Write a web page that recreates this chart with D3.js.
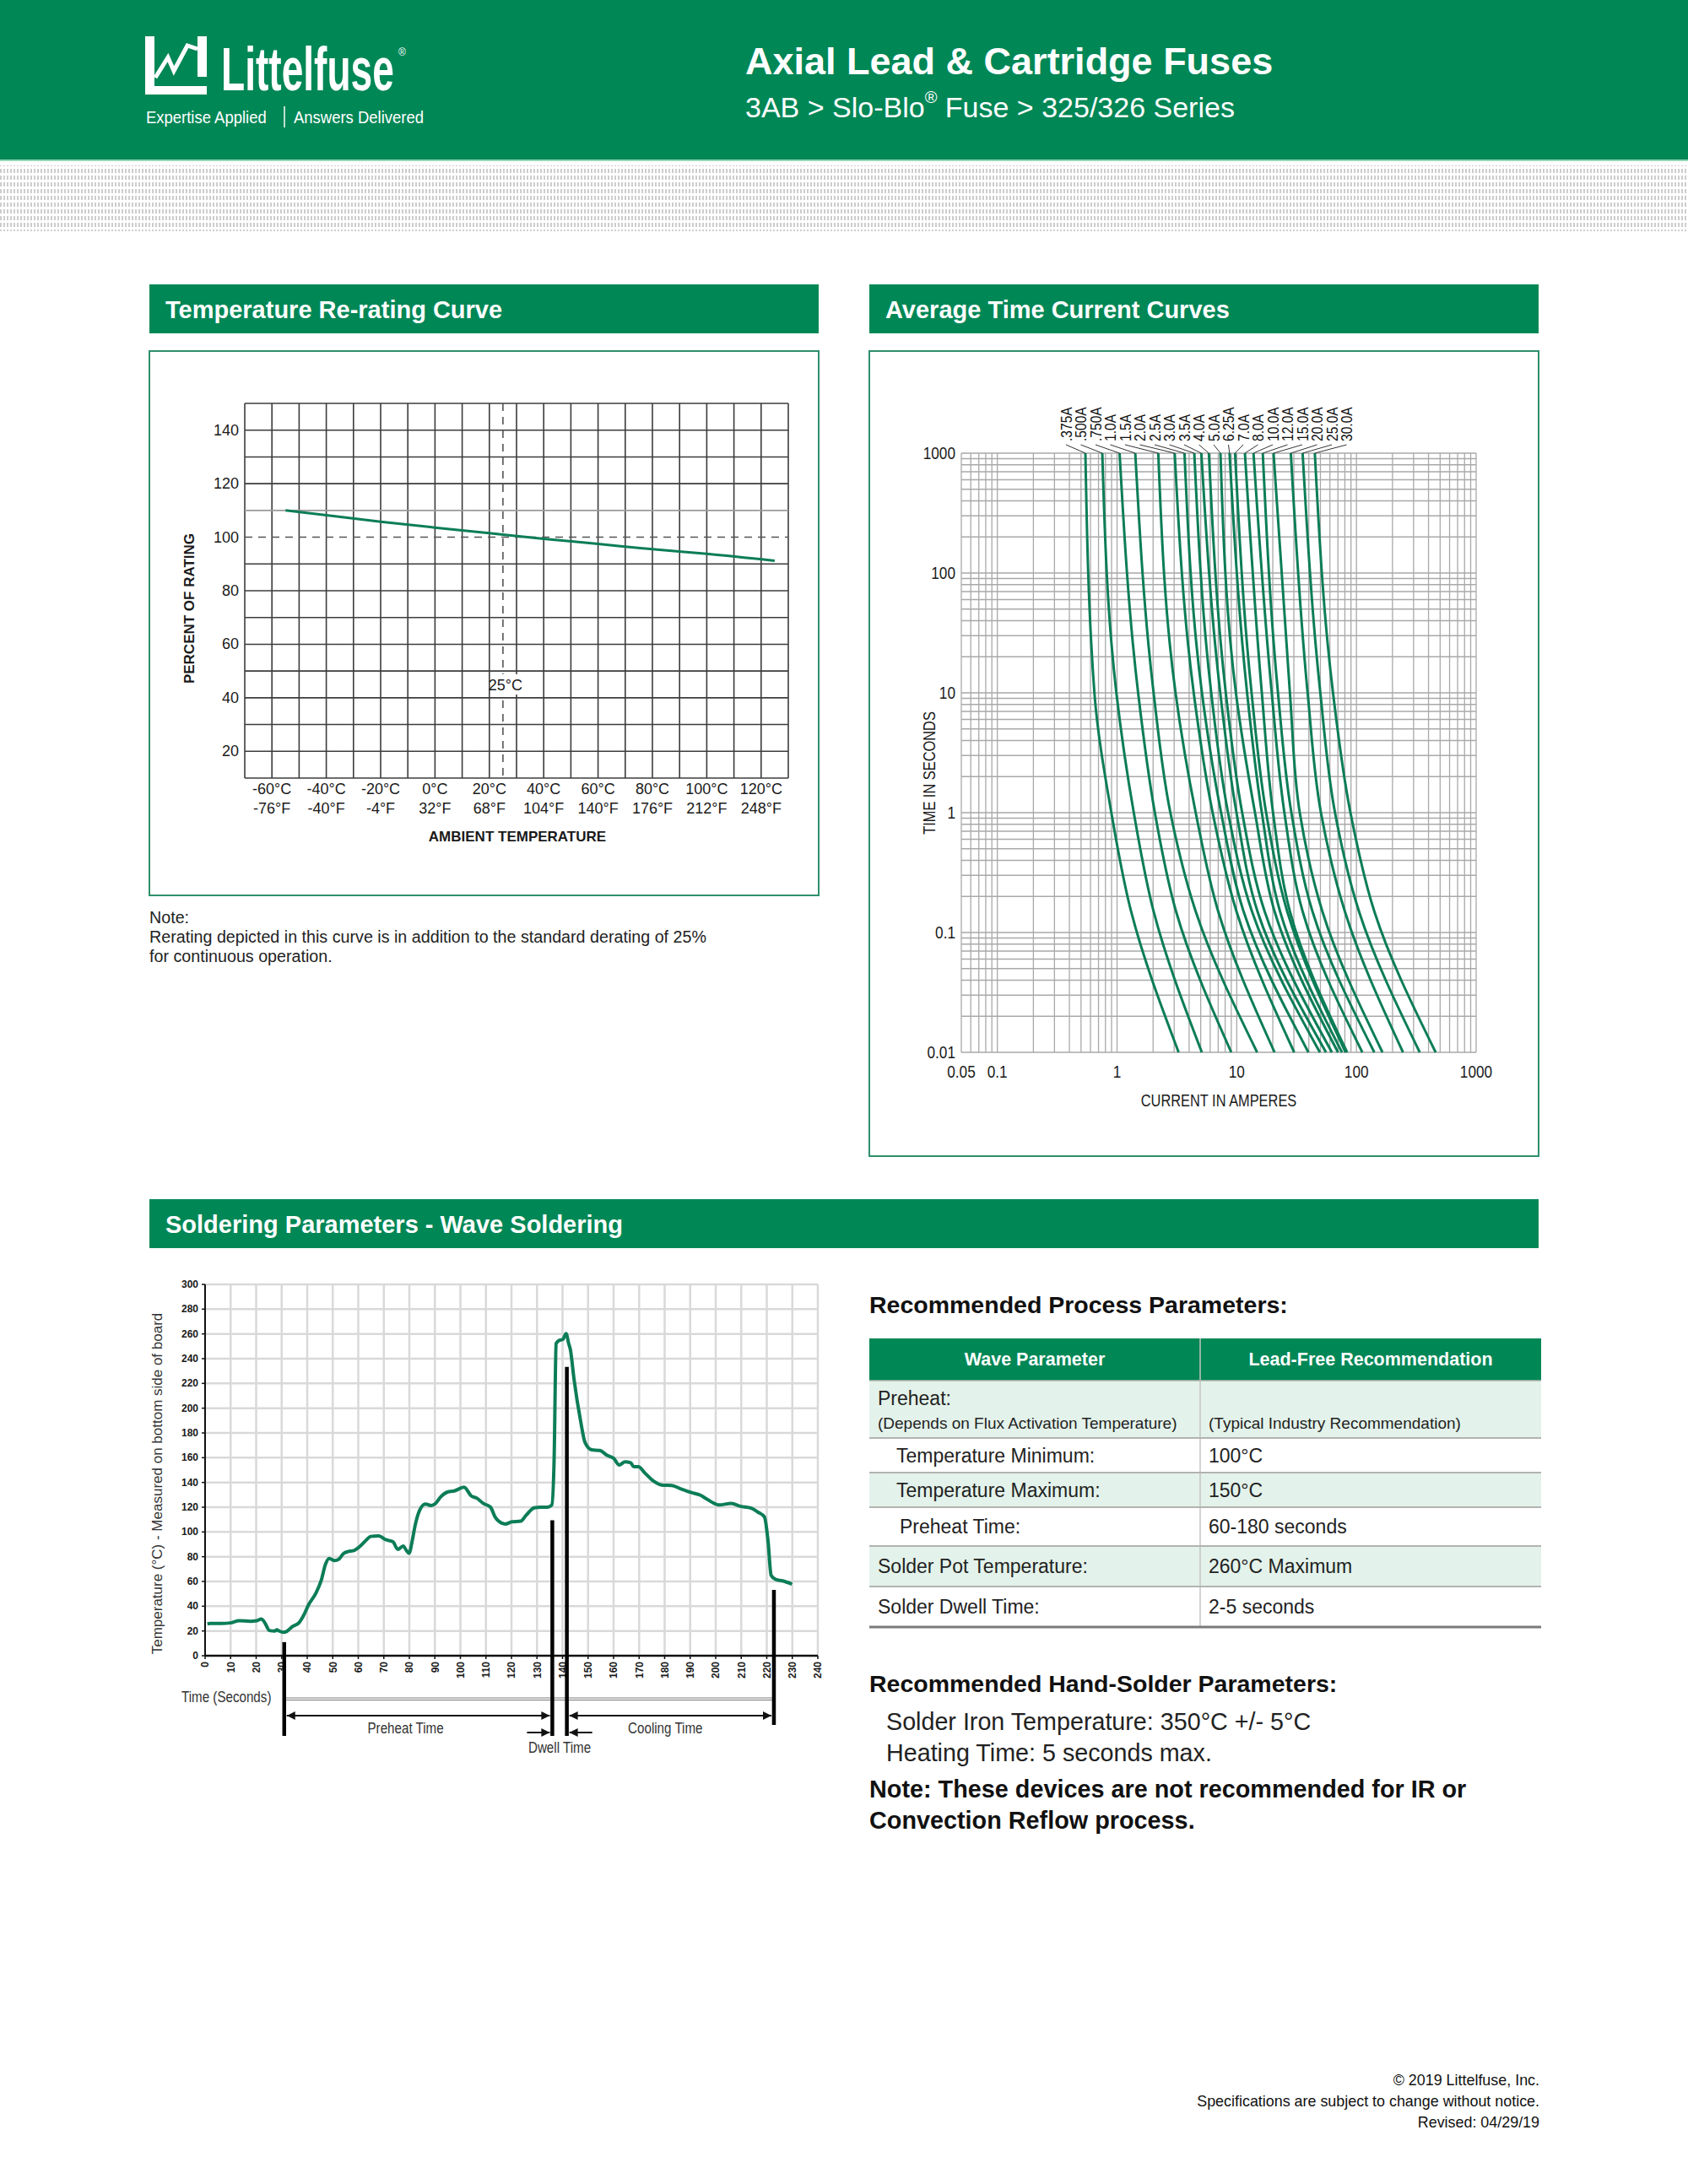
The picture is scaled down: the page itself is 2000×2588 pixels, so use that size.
<!DOCTYPE html>
<html>
<head>
<meta charset="utf-8">
<script src="https://cdnjs.cloudflare.com/ajax/libs/d3/7.8.5/d3.min.js"></script>
<style>
  body { margin: 0; background: #fff; }
  svg { display: block; }
</style>
</head>
<body>
<svg id="page" width="2000" height="2588"></svg>
<script>
// ---- data ----

// temperature re-rating curve
const rerateTempC = [-55, -40, -20, 0, 20, 40, 60, 80, 100, 125];
const reratePct = [110, 108.2, 105.8, 103.6, 101.5, 99.4, 97.5, 95.5, 93.8, 91.2];
const rerateTicksC = [-60, -40, -20, 0, 20, 40, 60, 80, 100, 120];
const rerateTicksF = ['-76°F', '-40°F', '-4°F', '32°F', '68°F', '104°F', '140°F', '176°F', '212°F', '248°F'];
const rerateTicksY = [20, 40, 60, 80, 100, 120, 140];

// average time current curves (amps at a given blow time)
const fuseRatings = ['.375A', '.500A', '.750A', '1.0A', '1.5A', '2.0A', '2.5A', '3.0A', '3.5A', '4.0A',
  '5.0A', '6.25A', '7.0A', '8.0A', '10.0A', '12.0A', '15.0A', '20.0A', '25.0A', '30.0A'];
const curveTimes = [1000, 10, 1, 0.15, 0.01];
const ampsAt1000s = [0.544, 0.753, 1.05, 1.42, 2.21, 3.03, 3.66, 4.42, 5.06, 5.85, 7.31, 8.70, 9.68, 11.7, 13.8, 16.5, 20.3, 28.3, 35.5, 44.9];
const ampsAt10s = [0.647, 0.987, 1.50, 2.02, 3.08, 4.37, 5.12, 6.12, 7.28, 8.10, 9.84, 12.2, 13.3, 16.2, 19.6, 22.1, 27.8, 39.1, 49.9, 63.7];
const ampsAt1s = [0.896, 1.38, 2.07, 2.79, 4.54, 6.29, 7.40, 8.46, 9.95, 11.1, 14.2, 16.2, 17.6, 20.1, 25.0, 28.6, 33.6, 50.5, 66.2, 89.1];
const ampsAt015s = [1.31, 2.02, 3.11, 4.54, 7.00, 9.95, 11.4, 13.4, 14.9, 17.1, 20.7, 23.0, 26.4, 27.8, 35.5, 42.9, 51.9, 80.0, 105, 141];
const ampsAt001s = [3.27, 5.11, 9.0, 14.8, 20.7, 30.2, 39.7, 49.5, 55.7, 62.4, 70.2, 75.7, 81.2, 83.6, 112, 141, 165, 245, 338, 459];
const timeTickLabels = ['1000', '100', '10', '1', '0.1', '0.01'];
const currentTickLabels = ['0.05', '0.1', '1', '10', '100', '1000'];

// wave soldering profile
const solderSec = [0.9, 2, 6.4, 9.9, 13.4, 17.7, 20.3, 22, 23.3, 25.2, 27.3, 28.1, 29, 30.7, 32, 34.2, 36.8, 38.5,
  40.6, 43.4, 45.5, 47.2, 48.6, 50.7, 52.4, 54.2, 55.9, 58.5, 60.8, 62.9, 64.9, 68, 70.7, 73.6, 75.5, 77.6,
  78.8, 79.9, 81.1, 82.3, 84, 86.3, 88.6, 90.3, 92.4, 95, 97.6, 101.4, 104.2, 106.6, 108.9, 111.8, 113.6,
  115, 117.6, 120.2, 123.6, 125.7, 128.9, 131.5, 134.1, 135.8, 136.7, 137.5, 138.8, 140.1, 141.4, 142.4,
  143.1, 144.5, 147.1, 148.8, 151.4, 154.6, 157.5, 160.1, 162.2, 164.5, 166.7, 167.9, 169.7, 172.3, 175.7,
  179.2, 182.7, 186.2, 190.5, 194, 196.6, 201.4, 206.1, 209.6, 213.9, 216.5, 219.1, 220.5, 221.7, 223.5,
  226.1, 229.9];
const solderTemp = [25.7, 26, 26, 26.5, 28.3, 27.8, 28.3, 29.6, 27, 20.4, 19.9, 21, 20, 18.9, 19.7, 23.6, 26.7, 32.2,
  41.4, 50.6, 61, 74.1, 78.6, 76.8, 78, 82.5, 84.1, 85.2, 88.6, 93, 96.4, 96.9, 93.8, 92, 85.9, 88.6,
  85.2, 82.8, 92.5, 105.6, 117.4, 122.6, 121.3, 123.1, 128.6, 132.3, 133.1, 136.2, 129.2, 127.1, 123.1, 120, 112.1,
  108.7, 106.4, 108.2, 108.7, 113.4, 119.5, 120, 120, 121.8, 158, 252.3, 254.9, 255.5, 260.2, 252.3,
  247, 223.5, 189.4, 172.4, 166.4, 165.8, 161.9, 159.3, 154.1, 156.7, 155.9, 152.7, 152.7, 147.5, 141,
  137.8, 137.6, 134.9, 131.8, 129.7, 126.5, 121.8, 123.1, 120.8, 119.2, 116.1, 112.1, 92.5, 65, 61.6,
  60.5, 57.9];
const phaseSec = [31, 136, 141.7, 222.8];      // preheat start, dwell start, dwell end, cooling end
const phaseTopTemp = [11, 109.5, 233.4, 53.2];

// process parameter table
const paramLabels = ['Preheat:', 'Temperature Minimum:', 'Temperature Maximum:', 'Preheat Time:', 'Solder Pot Temperature:', 'Solder Dwell Time:'];
const paramValues = ['', '100°C', '150°C', '60-180 seconds', '260°C Maximum', '2-5 seconds'];

// ---- page ----
const GREEN = '#008756';
const CURVE = '#0c7d56';
const LIGHT = '#e3f2ea';
const SANS = "'Liberation Sans', Arial, Helvetica, sans-serif";
const NARROW_X = 0.82; // no condensed face installed, so squeeze the sans

const svg = d3.select('#page');
const defs = svg.append('defs');

function txt(parent, x, y, s, o = {}) {
    return parent.append('text')
        .attr('x', x)
        .attr('y', y)
        .attr('font-family', SANS)
        .attr('font-size', o.size || 18)
        .attr('font-weight', o.weight || 'normal')
        .attr('fill', o.fill || '#1a1a1a')
        .attr('text-anchor', o.anchor || 'start')
        .attr('dominant-baseline', 'central')
        .text(s);
}

// condensed text: squeezed horizontally, optional rotation
function ntxt(parent, x, y, s, o = {}) {
    const t = txt(parent, 0, 0, s, o);
    t.attr('transform', `translate(${x},${y}) rotate(${o.rotate || 0}) scale(${o.sx || NARROW_X},1)`);
    return t;
}

svg.append('rect').attr('width', 2000).attr('height', 2588).attr('fill', '#fff');

// header band
svg.append('rect').attr('width', 2000).attr('height', 189).attr('fill', GREEN);
svg.append('rect').attr('y', 189).attr('width', 2000).attr('height', 2).attr('fill', '#93d5b8');

const pat = defs.append('pattern')
    .attr('id', 'dots')
    .attr('patternUnits', 'userSpaceOnUse')
    .attr('width', 4)
    .attr('height', 8);
pat.append('rect').attr('width', 2).attr('height', 5).attr('fill', '#cdcdcd');
svg.append('rect').attr('y', 196).attr('width', 2000).attr('height', 78).attr('fill', 'url(#dots)');

// logo
const logo = svg.append('g');
logo.append('rect').attr('x', 172).attr('y', 43).attr('width', 11).attr('height', 69).attr('fill', '#fff');
logo.append('rect').attr('x', 172).attr('y', 102).attr('width', 73).attr('height', 10).attr('fill', '#fff');
logo.append('rect').attr('x', 234).attr('y', 43).attr('width', 11).attr('height', 48).attr('fill', '#fff');
logo.append('polyline')
    .attr('points', '184,92 199,68 206,84 222,54 234,58')
    .attr('fill', 'none')
    .attr('stroke', '#fff')
    .attr('stroke-width', 5)
    .attr('stroke-linejoin', 'miter');
ntxt(logo, 262, 82, 'Littelfuse', { size: 72, weight: 'bold', fill: '#fff', sx: 0.64 });
txt(logo, 472, 62, '®', { size: 12, fill: '#fff' });
ntxt(logo, 173, 139, 'Expertise Applied', { size: 21, fill: '#fff', sx: 0.88 });
logo.append('line').attr('x1', 337).attr('x2', 337).attr('y1', 126).attr('y2', 151)
    .attr('stroke', '#fff').attr('stroke-width', 1.5);
ntxt(logo, 348, 139, 'Answers Delivered', { size: 21, fill: '#fff', sx: 0.88 });

txt(svg, 883, 72, 'Axial Lead & Cartridge Fuses', { size: 45, weight: 'bold', fill: '#fff' });
const sub = txt(svg, 883, 127, '', { size: 34, fill: '#fff' });
sub.append('tspan').text('3AB > Slo-Blo');
sub.append('tspan').attr('font-size', 20).attr('dy', -12).text('®');
sub.append('tspan').attr('dy', 12).text(' Fuse > 325/326 Series');

function sectionBar(x, y, w, label) {
    svg.append('rect').attr('x', x).attr('y', y).attr('width', w).attr('height', 58).attr('fill', GREEN);
    txt(svg, x + 19, y + 30, label, { size: 29, weight: 'bold', fill: '#fff' });
}
sectionBar(177, 337, 793, 'Temperature Re-rating Curve');
sectionBar(1030, 337, 793, 'Average Time Current Curves');
sectionBar(177, 1421, 1646, 'Soldering Parameters - Wave Soldering');

svg.append('rect').attr('x', 177).attr('y', 416).attr('width', 793).attr('height', 645)
    .attr('fill', 'none').attr('stroke', '#2f8f6b').attr('stroke-width', 2);
svg.append('rect').attr('x', 1030).attr('y', 416).attr('width', 793).attr('height', 954)
    .attr('fill', 'none').attr('stroke', '#2f8f6b').attr('stroke-width', 2);

// ---- temperature re-rating chart ----
const tX = d3.scaleLinear().domain([-70, 130]).range([290, 934]);
const tY = d3.scaleLinear().domain([10, 150]).range([922, 478]);
const tg = svg.append('g');

tg.selectAll('.vgrid').data(d3.range(-70, 131, 10)).join('line')
    .attr('x1', d => tX(d)).attr('x2', d => tX(d))
    .attr('y1', tY(10)).attr('y2', tY(150))
    .attr('stroke', '#3c3c3c').attr('stroke-width', 1.6);
tg.selectAll('.hgrid').data(d3.range(10, 151, 10).filter(d => d !== 100)).join('line')
    .attr('x1', tX(-70)).attr('x2', tX(130))
    .attr('y1', d => tY(d)).attr('y2', d => tY(d))
    .attr('stroke', d => d === 110 ? '#9a9a9a' : '#3c3c3c').attr('stroke-width', 1.6);
tg.append('line')
    .attr('x1', tX(-70)).attr('x2', tX(130)).attr('y1', tY(100)).attr('y2', tY(100))
    .attr('stroke', '#555').attr('stroke-width', 1.6).attr('stroke-dasharray', '9,7');
tg.append('line')
    .attr('x1', tX(25)).attr('x2', tX(25)).attr('y1', tY(150)).attr('y2', tY(10))
    .attr('stroke', '#555').attr('stroke-width', 1.6).attr('stroke-dasharray', '9,7');
tg.append('rect').attr('x', tX(25) - 14).attr('y', tY(45) - 12).attr('width', 34).attr('height', 24).attr('fill', '#fff');
txt(tg, tX(25) + 3, tY(45) + 1, '25°C', { size: 18, anchor: 'middle' });

tg.append('path')
    .datum(rerateTempC.map((c, i) => [c, reratePct[i]]))
    .attr('fill', 'none')
    .attr('stroke', CURVE)
    .attr('stroke-width', 3)
    .attr('d', d3.line().x(d => tX(d[0])).y(d => tY(d[1])).curve(d3.curveMonotoneX));

rerateTicksY.forEach(v => txt(tg, 283, tY(v), v, { size: 18, anchor: 'end' }));
rerateTicksC.forEach((c, i) => {
    txt(tg, tX(c), 935, c + '°C', { size: 18, anchor: 'middle' });
    txt(tg, tX(c), 958, rerateTicksF[i], { size: 18, anchor: 'middle' });
});
txt(tg, 613, 991, 'AMBIENT TEMPERATURE', { size: 17, weight: 'bold', anchor: 'middle' });
txt(tg, 0, 0, 'PERCENT OF RATING', { size: 17, weight: 'bold', anchor: 'middle' })
    .attr('transform', 'translate(224,721) rotate(-90)');

txt(svg, 177, 1087, 'Note:', { size: 19.7, fill: '#222' });
txt(svg, 177, 1110, 'Rerating depicted in this curve is in addition to the standard derating of 25%', { size: 19.7, fill: '#222' });
txt(svg, 177, 1133, 'for continuous operation.', { size: 19.7, fill: '#222' });

// ---- time current curves ----
const cX = d3.scaleLog().domain([0.05, 1000]).range([1139, 1749]);
const cY = d3.scaleLog().domain([0.01, 1000]).range([1247, 537]);
const cg = svg.append('g');

const logSteps = (lo, hi) => {
    const out = [];
    for (let e = -2; e <= 3; e++) {
        for (let m = 1; m <= 9; m++) {
            const v = +(m * Math.pow(10, e)).toPrecision(3);
            if (v >= lo - 1e-9 && v <= hi + 1e-9) out.push(v);
        }
    }
    return out;
};
cg.selectAll('.cv').data(logSteps(0.05, 1000)).join('line')
    .attr('x1', d => cX(d)).attr('x2', d => cX(d))
    .attr('y1', cY(0.01)).attr('y2', cY(1000))
    .attr('stroke', '#a9a9a9').attr('stroke-width', 1.3);
cg.selectAll('.ch').data(logSteps(0.01, 1000)).join('line')
    .attr('x1', cX(0.05)).attr('x2', cX(1000))
    .attr('y1', d => cY(d)).attr('y2', d => cY(d))
    .attr('stroke', '#a9a9a9').attr('stroke-width', 1.3);

const ampRows = [ampsAt1000s, ampsAt10s, ampsAt1s, ampsAt015s, ampsAt001s];
const fuseCurves = fuseRatings.map((r, i) => curveTimes.map((t, j) => [ampRows[j][i], t]));
const fuseLine = d3.line()
    .x(d => cX(d[0]))
    .y(d => cY(d[1]))
    .curve(d3.curveMonotoneY);
cg.selectAll('.fuse').data(fuseCurves).join('path')
    .attr('fill', 'none')
    .attr('stroke', CURVE)
    .attr('stroke-width', 3)
    .attr('d', fuseLine);

fuseRatings.forEach((r, i) => {
    const lx = 1263 + i * 17.5;
    cg.append('line')
        .attr('x1', lx).attr('y1', 527)
        .attr('x2', cX(ampsAt1000s[i])).attr('y2', cY(1000))
        .attr('stroke', '#333').attr('stroke-width', 1);
    ntxt(cg, lx, 523, r, { size: 19, rotate: -90, fill: '#111' });
});

[1000, 100, 10, 1, 0.1, 0.01].forEach((v, i) =>
    ntxt(cg, 1132, cY(v), timeTickLabels[i], { size: 21, anchor: 'end' }));
[0.05, 0.1, 1, 10, 100, 1000].forEach((v, i) =>
    ntxt(cg, cX(v), 1270, currentTickLabels[i], { size: 21, anchor: 'middle' }));
ntxt(cg, 1444, 1304, 'CURRENT IN AMPERES', { size: 20, anchor: 'middle' });
ntxt(cg, 1101, 916, 'TIME IN SECONDS', { size: 20, anchor: 'middle', rotate: -90 });

// ---- wave soldering profile ----
const sX = d3.scaleLinear().domain([0, 240]).range([243, 969]);
const sY = d3.scaleLinear().domain([0, 300]).range([1962, 1522]);
const sg = svg.append('g');

sg.selectAll('.sv').data(d3.range(10, 241, 10)).join('line')
    .attr('x1', d => sX(d)).attr('x2', d => sX(d))
    .attr('y1', sY(0)).attr('y2', sY(300))
    .attr('stroke', '#d9d9d9').attr('stroke-width', 2.5);
sg.selectAll('.sh').data(d3.range(20, 301, 20)).join('line')
    .attr('x1', sX(0)).attr('x2', sX(240))
    .attr('y1', d => sY(d)).attr('y2', d => sY(d))
    .attr('stroke', '#d9d9d9').attr('stroke-width', 2.5);

sg.append('line').attr('x1', sX(0)).attr('x2', sX(0)).attr('y1', sY(0)).attr('y2', sY(300))
    .attr('stroke', '#111').attr('stroke-width', 2);
sg.append('line').attr('x1', sX(0)).attr('x2', sX(240)).attr('y1', sY(0)).attr('y2', sY(0))
    .attr('stroke', '#111').attr('stroke-width', 2.5);
sg.selectAll('.yt').data(d3.range(0, 301, 20)).join('line')
    .attr('x1', sX(0) - 4).attr('x2', sX(0))
    .attr('y1', d => sY(d)).attr('y2', d => sY(d))
    .attr('stroke', '#111').attr('stroke-width', 1.5);
sg.selectAll('.xt').data(d3.range(0, 241, 10)).join('line')
    .attr('x1', d => sX(d)).attr('x2', d => sX(d))
    .attr('y1', sY(0)).attr('y2', sY(0) + 4)
    .attr('stroke', '#111').attr('stroke-width', 1.5);

d3.range(0, 301, 20).forEach(v => txt(sg, sX(0) - 8, sY(v), v, { size: 12, weight: 'bold', anchor: 'end' }));
d3.range(0, 241, 10).forEach(v => {
    sg.append('text')
        .attr('transform', `translate(${sX(v)},${sY(0) + 7}) rotate(-90)`)
        .attr('font-family', SANS)
        .attr('font-size', 12)
        .attr('font-weight', 'bold')
        .attr('text-anchor', 'end')
        .attr('dy', '0.36em')
        .attr('fill', '#1a1a1a')
        .text(v);
});

sg.append('path')
    .datum(solderSec.map((s, i) => [s, solderTemp[i]]))
    .attr('fill', 'none')
    .attr('stroke', CURVE)
    .attr('stroke-width', 4)
    .attr('stroke-linejoin', 'round')
    .attr('d', d3.line().x(d => sX(d[0])).y(d => sY(d[1])).curve(d3.curveMonotoneX));

txt(sg, 0, 0, 'Temperature (°C) - Measured on bottom side of board', { size: 17, anchor: 'middle', fill: '#333' })
    .attr('transform', 'translate(186,1758) rotate(-90)');
ntxt(sg, 215, 2011, 'Time (Seconds)', { size: 18.5, fill: '#333' });

// phase markers and arrows
defs.append('marker')
    .attr('id', 'arrow')
    .attr('viewBox', '0 0 10 10')
    .attr('refX', 10).attr('refY', 5)
    .attr('markerWidth', 5).attr('markerHeight', 5)
    .attr('markerUnits', 'strokeWidth')
    .attr('orient', 'auto-start-reverse')
    .append('path').attr('d', 'M0,0 L10,5 L0,10 Z').attr('fill', '#111');

const markerBottom = [2057, 2057, 2057, 2044];
[2012, 2014.5].forEach(y => sg.append('line')
    .attr('x1', sX(phaseSec[0])).attr('x2', sX(phaseSec[3]))
    .attr('y1', y).attr('y2', y)
    .attr('stroke', '#777').attr('stroke-width', 1));
phaseSec.forEach((s, i) => {
    sg.append('line')
        .attr('x1', sX(s)).attr('x2', sX(s))
        .attr('y1', sY(phaseTopTemp[i])).attr('y2', markerBottom[i])
        .attr('stroke', '#000').attr('stroke-width', 4.5);
});
const arrow = (x1, x2, y, both) => sg.append('line')
    .attr('x1', x1).attr('x2', x2).attr('y1', y).attr('y2', y)
    .attr('stroke', '#111').attr('stroke-width', 2)
    .attr('marker-end', 'url(#arrow)')
    .attr('marker-start', both ? 'url(#arrow)' : null);
arrow(sX(phaseSec[0]) + 3, sX(phaseSec[1]) - 3, 2033, true);
arrow(sX(phaseSec[2]) + 3, sX(phaseSec[3]) - 3, 2033, true);
arrow(sX(phaseSec[1]) - 30, sX(phaseSec[1]) - 3, 2053, false);
arrow(sX(phaseSec[2]) + 30, sX(phaseSec[2]) + 3, 2053, false);
ntxt(sg, (sX(phaseSec[0]) + sX(phaseSec[1])) / 2 - 15, 2048, 'Preheat Time', { size: 18.5, anchor: 'middle', fill: '#333' });
ntxt(sg, (sX(phaseSec[2]) + sX(phaseSec[3])) / 2 - 6, 2048, 'Cooling Time', { size: 18.5, anchor: 'middle', fill: '#333' });
ntxt(sg, (sX(phaseSec[1]) + sX(phaseSec[2])) / 2, 2071, 'Dwell Time', { size: 18.5, anchor: 'middle', fill: '#333' });

// ---- process parameters table ----
const tb = svg.append('g');
txt(tb, 1030, 1546, 'Recommended Process Parameters:', { size: 28.5, weight: 'bold', fill: '#111' });
const tblL = 1030, tblR = 1826, tblMid = 1422;
const rowEdges = [1636, 1704, 1745, 1786, 1832, 1880, 1928];
tb.append('rect').attr('x', tblL).attr('y', 1586).attr('width', tblR - tblL).attr('height', 50).attr('fill', GREEN);
paramLabels.forEach((p, i) => {
    tb.append('rect')
        .attr('x', tblL).attr('y', rowEdges[i])
        .attr('width', tblR - tblL).attr('height', rowEdges[i + 1] - rowEdges[i])
        .attr('fill', i % 2 === 0 ? LIGHT : '#fff');
});
tb.append('line').attr('x1', tblMid).attr('x2', tblMid).attr('y1', 1586).attr('y2', 1928)
    .attr('stroke', '#c4c4c4').attr('stroke-width', 1.5);
rowEdges.slice(1, -1).forEach(y => {
    tb.append('line').attr('x1', tblL).attr('x2', tblR).attr('y1', y).attr('y2', y)
        .attr('stroke', '#b3b3b3').attr('stroke-width', 2);
});
tb.append('line').attr('x1', tblL).attr('x2', tblR).attr('y1', 1636).attr('y2', 1636)
    .attr('stroke', '#b3b3b3').attr('stroke-width', 1.5);
tb.append('line').attr('x1', tblL).attr('x2', tblR).attr('y1', 1928).attr('y2', 1928)
    .attr('stroke', '#7a7a7a').attr('stroke-width', 3);
txt(tb, (tblL + tblMid) / 2, 1611, 'Wave Parameter', { size: 21.5, weight: 'bold', fill: '#fff', anchor: 'middle' });
txt(tb, (tblMid + tblR) / 2, 1611, 'Lead-Free Recommendation', { size: 21.5, weight: 'bold', fill: '#fff', anchor: 'middle' });

const indent = [0, 22, 22, 26, 0, 0];
paramLabels.forEach((p, i) => {
    const top = rowEdges[i], bot = rowEdges[i + 1];
    const cy = i === 0 ? top + 21 : (top + bot) / 2;
    txt(tb, 1040 + indent[i], cy, p, { size: 23, fill: '#222' });
    if (paramValues[i]) txt(tb, 1432, cy, paramValues[i], { size: 23, fill: '#222' });
});
txt(tb, 1040, 1686, '(Depends on Flux Activation Temperature)', { size: 19, fill: '#222' });
txt(tb, 1432, 1686, '(Typical Industry Recommendation)', { size: 19, fill: '#222' });

txt(tb, 1030, 1995, 'Recommended Hand-Solder Parameters:', { size: 28.5, weight: 'bold', fill: '#111' });
txt(tb, 1050, 2040, 'Solder Iron Temperature: 350°C +/- 5°C', { size: 28.7, fill: '#222' });
txt(tb, 1050, 2077, 'Heating Time: 5 seconds max.', { size: 28.7, fill: '#222' });
txt(tb, 1030, 2120, 'Note: These devices are not recommended for IR or', { size: 28.8, weight: 'bold', fill: '#111' });
txt(tb, 1030, 2157, 'Convection Reflow process.', { size: 28.8, weight: 'bold', fill: '#111' });

// footer
txt(svg, 1824, 2465, '© 2019 Littelfuse, Inc.', { size: 17.9, anchor: 'end', fill: '#111' });
txt(svg, 1824, 2490, 'Specifications are subject to change without notice.', { size: 17.9, anchor: 'end', fill: '#111' });
txt(svg, 1824, 2515, 'Revised: 04/29/19', { size: 17.9, anchor: 'end', fill: '#111' });
</script>
</body>
</html>
